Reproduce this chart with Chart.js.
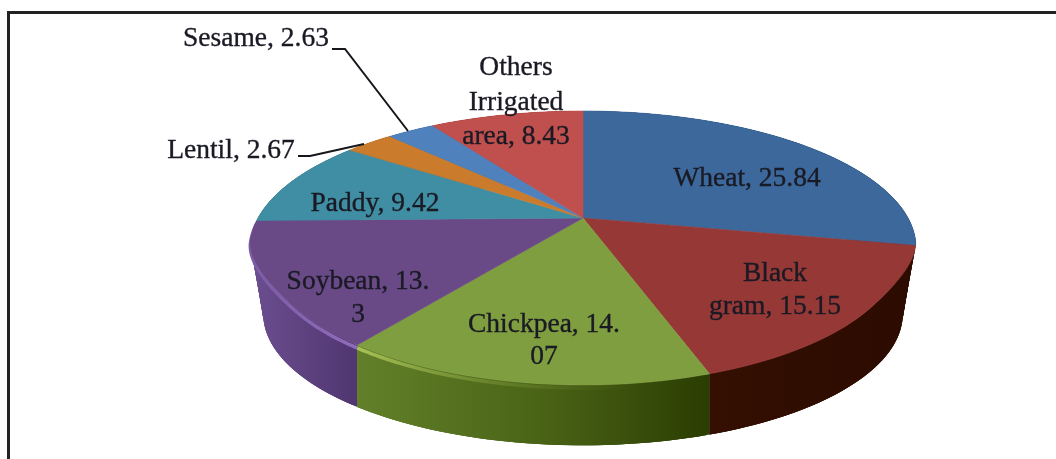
<!DOCTYPE html>
<html>
<head>
<meta charset="utf-8">
<style>
  html, body { margin: 0; padding: 0; background: #fff; overflow: hidden; }
  canvas { display: block; filter: blur(0.45px); }
</style>
<script src="https://cdn.jsdelivr.net/npm/chart.js@4/dist/chart.umd.min.js"></script>
</head>
<body>
<canvas id="pie" width="1056" height="459"></canvas>
<script>
const categories = ["Wheat", "Black gram", "Chickpea", "Soybean", "Paddy", "Lentil", "Sesame", "Others Irrigated area"];
const shares = [25.84, 15.15, 14.07, 13.3, 9.42, 2.67, 2.63, 8.43];
const sliceColors = ["#3c689c", "#953836", "#7f9e40", "#694a87", "#408ea3", "#cb7b2c", "#4f81bd", "#c0504d"];

// side wall colours, left to right across each slice
const wallColors = [
  ["#2a4a72", "#1d3656"],
  ["#340f02", "#2c0b00"],
  ["#62802a", "#4b6517", "#2b3d02"],
  ["#6c4e90", "#4f3670"],
  ["#2c6a7c", "#2c6a7c"],
  ["#8f5317", "#8f5317"],
  ["#375d8c", "#375d8c"],
  ["#8c3432", "#8c3432"],
];

// where the text goes: line breaks are char offsets in "name, value"
const labelBreaks = [[], [5], [13], [12], [], [], [], [6, 16]];
const labelPos = [
  [747, 179], [775, 274], [544, 325], [358, 282],
  [375, 204], [231, 151], [256, 39], [516, 68],
];
const labelLineGap = [0, 33, 32, 33, 0, 0, 0, 34.5];

const leaderLines = [
  [[332, 49], [345, 49], [408, 131]],
  [[298, 156], [310, 156], [364, 144]],
];

// perspective of the pie disc, fitted on the picture
const cx = 583, cy = 218, rx = 325, ry = 130.4, persp = 0.219;
const bottomScale = 0.96, bottomCy = 285;

// the front of the disc in the picture is a bit narrower than a true ellipse
function frontNarrowing(v) {
  const t = Math.min(1, Math.max(0, (v - 0.15) / 0.45));
  return 1 - 0.04 * t * t * (3 - 2 * t);
}

function topPoint(theta) {
  const u = Math.sin(theta), v = -Math.cos(theta), w = 1 - persp * v;
  return [cx + rx * frontNarrowing(v) * u / w, cy + ry * v / w];
}

function bottomPoint(theta) {
  const u = Math.sin(theta), v = -Math.cos(theta), w = 1 - persp * v;
  return [cx + bottomScale * rx * u / w, bottomCy + bottomScale * ry * v / w];
}

function rimPoints(fn, a0, a1) {
  const steps = Math.max(2, Math.ceil((a1 - a0) / 0.01));
  const pts = [];
  for (let i = 0; i <= steps; i++) pts.push(fn(a0 + (a1 - a0) * i / steps));
  return pts;
}

function tracePath(ctx, pts) {
  pts.forEach((p, i) => (i === 0 ? ctx.moveTo(p[0], p[1]) : ctx.lineTo(p[0], p[1])));
}

function drawWall(ctx, a0, a1, colors) {
  const upper = rimPoints(topPoint, a0, a1);
  const lower = rimPoints(bottomPoint, a0, a1);
  const xs = upper.concat(lower).map(p => p[0]);
  const grad = ctx.createLinearGradient(Math.min(...xs), 0, Math.max(...xs), 0);
  colors.forEach((c, i) => grad.addColorStop(i / (colors.length - 1), c));
  ctx.fillStyle = grad;
  // overlapping quads, so the outline follows the tangent at the sides and no seams show
  for (let i = 0; i < upper.length - 1; i++) {
    const j = Math.min(i + 3, upper.length - 1);
    ctx.beginPath();
    tracePath(ctx, [upper[i], upper[j], lower[j], lower[i]]);
    ctx.closePath();
    ctx.fill();
  }
}

function drawHighlight(ctx, a0, a1, x0, x1, from, to) {
  const pts = rimPoints(topPoint, a0, a1).map(p => [p[0], p[1] + 3]);
  const grad = ctx.createLinearGradient(x0, 0, x1, 0);
  grad.addColorStop(0, from);
  grad.addColorStop(1, to);
  ctx.beginPath();
  tracePath(ctx, pts);
  ctx.strokeStyle = grad;
  ctx.lineWidth = 3.5;
  ctx.stroke();
}

const pie3d = {
  id: "pie3d",
  // the library lays out the angles, this only projects them onto the tilted disc
  beforeDatasetDraw(chart, args) {
    const ctx = chart.ctx;
    const arcs = chart.getDatasetMeta(args.index).data;
    const angles = arcs.map(a => [a.startAngle + Math.PI / 2, a.endAngle + Math.PI / 2]);

    ctx.save();
    // walls from back to front
    const order = angles.map((a, i) => i)
      .sort((i, j) => -Math.cos((angles[i][0] + angles[i][1]) / 2) + Math.cos((angles[j][0] + angles[j][1]) / 2));
    order.forEach(i => drawWall(ctx, angles[i][0], angles[i][1], wallColors[i]));

    drawHighlight(ctx, angles[2][0], angles[2][1], 356, 640, "#a9c356", "rgba(80,105,30,0)");
    drawHighlight(ctx, angles[3][0], angles[3][1], 255, 356, "#7d5ca6", "#8e6cba");

    // top of the disc
    arcs.forEach((arc, i) => {
      const pts = rimPoints(topPoint, angles[i][0], angles[i][1]);
      ctx.beginPath();
      tracePath(ctx, [[cx, cy], ...pts]);
      ctx.closePath();
      ctx.fillStyle = sliceColors[i];
      ctx.strokeStyle = sliceColors[i];
      ctx.lineWidth = 0.6;
      ctx.fill();
      ctx.stroke();
    });
    ctx.restore();
    return false;
  },
  afterDraw(chart) {
    const ctx = chart.ctx;
    ctx.save();

    // frame, no right or bottom side in the picture
    ctx.fillStyle = "#222";
    ctx.fillRect(7, 11, 1049, 3);
    ctx.fillRect(7, 11, 3, 448);

    ctx.strokeStyle = "#16161c";
    ctx.lineWidth = 2;
    leaderLines.forEach(line => {
      ctx.beginPath();
      tracePath(ctx, line);
      ctx.stroke();
    });

    ctx.font = "27.5px 'Liberation Serif'";
    ctx.fillStyle = "#1a1a24";
    ctx.strokeStyle = "#1a1a24";
    ctx.lineWidth = 0.35;
    ctx.textAlign = "center";
    ctx.textBaseline = "middle";
    categories.forEach((name, i) => {
      const text = name + ", " + shares[i];
      const cuts = [0, ...labelBreaks[i], text.length];
      for (let n = 0; n < cuts.length - 1; n++) {
        const line = text.slice(cuts[n], cuts[n + 1]).trim();
        const y = labelPos[i][1] + n * labelLineGap[i];
        ctx.fillText(line, labelPos[i][0], y);
        ctx.strokeText(line, labelPos[i][0], y);
      }
    });
    ctx.restore();
  },
};

new Chart(document.getElementById("pie"), {
  type: "pie",
  plugins: [pie3d],
  data: {
    labels: categories,
    datasets: [{ data: shares, backgroundColor: sliceColors, borderWidth: 0 }],
  },
  options: {
    responsive: false,
    animation: false,
    plugins: { legend: { display: false }, tooltip: { enabled: false } },
  },
});
</script>
</body>
</html>
